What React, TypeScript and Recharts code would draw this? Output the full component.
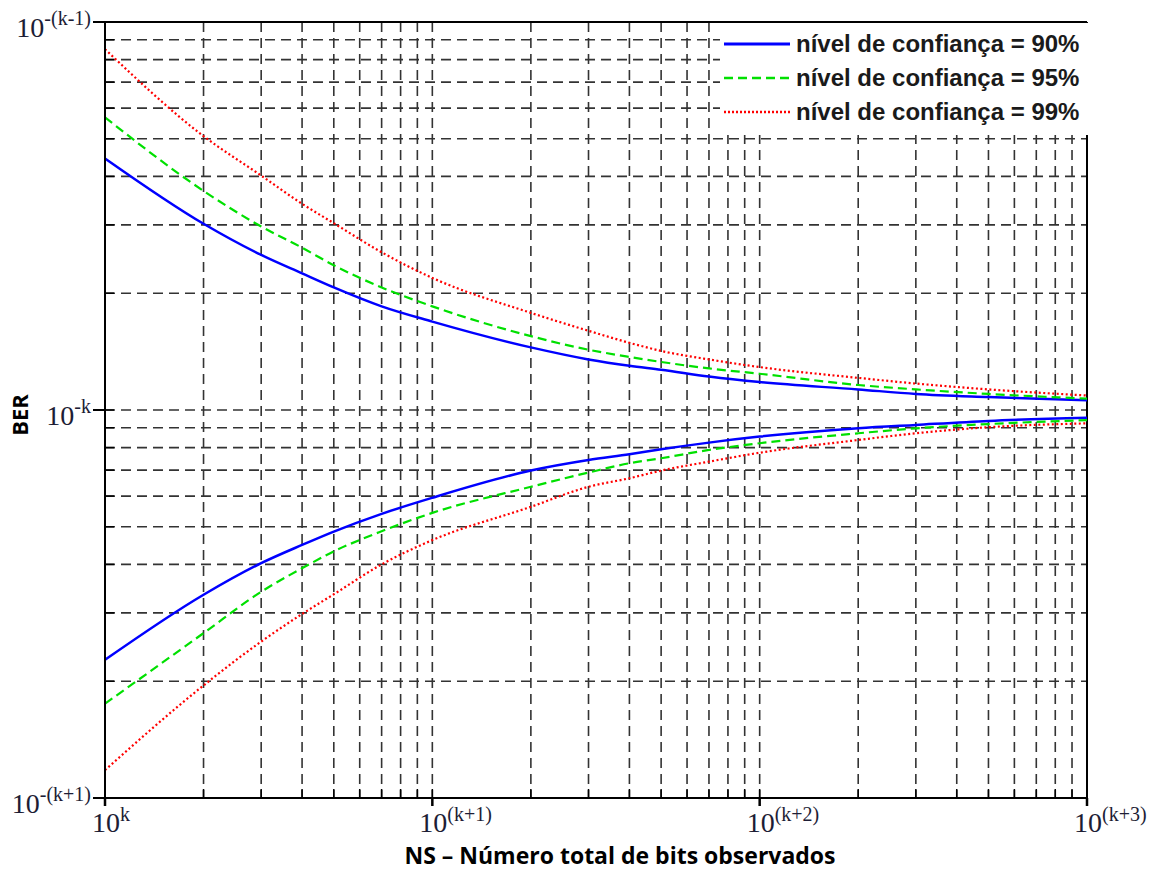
import {
  LineChart,
  Line,
  XAxis,
  YAxis,
  CartesianGrid,
  ReferenceLine,
  Legend,
} from "recharts";

// NS / 10^k  (eixo x)
const nsValues = [1, 2, 3, 4, 5, 7, 10, 20, 30, 40, 50, 70, 100, 200, 300, 500, 1000];

// BER / 10^-k, limites superior e inferior por nível de confiança
const upper90 = [4.45, 3.02, 2.51, 2.25, 2.07, 1.85, 1.69, 1.45, 1.35, 1.3, 1.27, 1.22, 1.18, 1.13, 1.1, 1.08, 1.06];
const lower90 = [0.227, 0.334, 0.403, 0.449, 0.486, 0.54, 0.594, 0.698, 0.743, 0.769, 0.792, 0.824, 0.854, 0.897, 0.915, 0.937, 0.955];
const upper95 = [5.68, 3.67, 2.97, 2.62, 2.36, 2.07, 1.85, 1.55, 1.43, 1.37, 1.33, 1.28, 1.24, 1.16, 1.13, 1.1, 1.07];
const lower95 = [0.175, 0.266, 0.34, 0.391, 0.432, 0.487, 0.543, 0.634, 0.69, 0.729, 0.751, 0.789, 0.821, 0.871, 0.897, 0.92, 0.942];
const upper99 = [8.51, 5.08, 4.02, 3.4, 3.03, 2.55, 2.19, 1.78, 1.6, 1.49, 1.42, 1.35, 1.29, 1.21, 1.17, 1.13, 1.09];
const lower99 = [0.118, 0.195, 0.253, 0.298, 0.335, 0.4, 0.462, 0.563, 0.634, 0.667, 0.698, 0.736, 0.776, 0.837, 0.871, 0.903, 0.924];

const legendLabels = ["nível de confiança = 90%", "nível de confiança = 95%", "nível de confiança = 99%"];

const xTicks = [1, 2, 3, 4, 5, 6, 7, 8, 9, 10, 20, 30, 40, 50, 60, 70, 80, 90, 100, 200, 300, 400, 500, 600, 700, 800, 900, 1000];
const yTicks = [0.1, 0.2, 0.3, 0.4, 0.5, 0.6, 0.7, 0.8, 0.9, 1, 2, 3, 4, 5, 6, 7, 8, 9, 10];

const xDecades = [1, 10, 100, 1000];
const xExponents = ["k", "(k+1)", "(k+2)", "(k+3)"];
const yDecades = [0.1, 1, 10];
const yExponents = ["-(k+1)", "-k", "-(k-1)"];

const data = nsValues.map((ns, i) => ({
  ns,
  u90: upper90[i],
  l90: lower90[i],
  u95: upper95[i],
  l95: lower95[i],
  u99: upper99[i],
  l99: lower99[i],
}));

const TICK_FONT = "'Liberation Serif', 'DejaVu Serif', serif";
const TICK_COLOR = "#1d1d35";

function XTick(props: any) {
  const { x, y, payload } = props;
  const idx = xDecades.indexOf(payload.value);
  return (
    <g>
      <line x1={x} y1={y} x2={x} y2={y - 9} stroke="#000" strokeWidth={1.5} />
      {idx >= 0 && (
        <>
          <line x1={x} y1={y} x2={x} y2={y + 8} stroke="#000" strokeWidth={2.5} />
          <text x={x - 13} y={y + 34} fontFamily={TICK_FONT} fontSize={28} fill={TICK_COLOR}>
            10
            <tspan fontSize={20} dy={-11}>{xExponents[idx]}</tspan>
          </text>
        </>
      )}
    </g>
  );
}

function YTick(props: any) {
  const { x, y, payload } = props;
  const idx = yDecades.findIndex((d) => Math.abs(d - payload.value) < 1e-9);
  return (
    <g>
      <line x1={x} y1={y} x2={x + 9} y2={y} stroke="#000" strokeWidth={1.5} />
      {idx >= 0 && (
        <>
          <line x1={x - 12} y1={y} x2={x} y2={y} stroke="#000" strokeWidth={2} />
          <text x={x - 14} y={y + 15} textAnchor="end" fontFamily={TICK_FONT} fontSize={28} fill={TICK_COLOR}>
            10
            <tspan fontSize={20} dy={-12}>{yExponents[idx]}</tspan>
          </text>
        </>
      )}
    </g>
  );
}

const legendStyles = [
  { color: "#0000ff", dash: undefined, width: 3 },
  { color: "#00e000", dash: "9 5", width: 2.5 },
  { color: "#ff0000", dash: "2 2", width: 2.5 },
];

function LegendBox() {
  return (
    <div style={{ background: "#fff", padding: "4px 0 6px 4px", width: 365 }}>
      {legendLabels.map((lab, i) => (
        <div key={lab} style={{ display: "flex", alignItems: "center", height: 34 }}>
          <svg width={66} height={10} style={{ marginRight: 6 }}>
            <line
              x1={0}
              y1={5}
              x2={66}
              y2={5}
              stroke={legendStyles[i].color}
              strokeWidth={legendStyles[i].width}
              strokeDasharray={legendStyles[i].dash}
            />
          </svg>
          <span
            style={{
              fontFamily: "'Liberation Sans', Arial, sans-serif",
              fontWeight: "bold",
              fontSize: 24,
              color: "#1a1a1a",
              whiteSpace: "nowrap",
            }}
          >
            {lab}
          </span>
        </div>
      ))}
    </div>
  );
}

function XLabel(props: any) {
  const { viewBox } = props;
  return (
    <text
      x={viewBox.x + viewBox.width / 2 + 24}
      y={viewBox.y + 66}
      textAnchor="middle"
      fontFamily="'Open Sans', sans-serif"
      fontWeight="bold"
      fontSize={23}
      fill="#000"
    >
      NS – Número total de bits observados
    </text>
  );
}

function YLabel(props: any) {
  const { viewBox } = props;
  const bx = 20;
  const cy = viewBox.y + viewBox.height / 2 + 5;
  return (
    <g transform={`translate(${bx}, ${cy}) rotate(-90)`}>
      <text
        x={0}
        y={0}
        textAnchor="middle"
        fontFamily="'Open Sans', sans-serif"
        fontWeight="bold"
        fontSize={22}
        fill="#000"
      >
        BER
      </text>
    </g>
  );
}

export default function App() {
  return (
    <div style={{ width: 1151, height: 864 }}>
      <LineChart width={1151} height={864} data={data} margin={{ top: 14, right: 72, left: 0, bottom: 0 }}>
        <CartesianGrid stroke="#333" strokeWidth={1.6} strokeDasharray="10 6" />
        <XAxis
          dataKey="ns"
          type="number"
          scale="log"
          domain={[1, 1000]}
          ticks={xTicks}
          allowDataOverflow
          height={74}
          tickSize={0}
          tickMargin={0}
          tickLine={false}
          axisLine={{ stroke: "#000", strokeWidth: 2 }}
          tick={<XTick />}
          interval={0}
          label={<XLabel />}
        />
        <YAxis
          type="number"
          scale="log"
          domain={[0.1, 10]}
          ticks={yTicks}
          allowDataOverflow
          width={97}
          tickSize={0}
          tickMargin={0}
          tickLine={false}
          axisLine={{ stroke: "#000", strokeWidth: 2 }}
          tick={<YTick />}
          interval={0}
          label={<YLabel />}
        />
        <ReferenceLine y={10} stroke="#000" strokeWidth={2} />
        <ReferenceLine x={1000} stroke="#000" strokeWidth={2} />
        <Legend
          layout="vertical"
          align="center"
          verticalAlign="middle"
          wrapperStyle={{ left: 712, top: 15 }}
          content={() => <LegendBox />}
        />
        <Line dataKey="u90" type="monotone" stroke="#0000ff" strokeWidth={2.5} dot={false} isAnimationActive={false} />
        <Line dataKey="l90" type="monotone" stroke="#0000ff" strokeWidth={2.5} dot={false} isAnimationActive={false} />
        <Line dataKey="u95" type="monotone" stroke="#00e000" strokeWidth={2.2} strokeDasharray="9 5" dot={false} isAnimationActive={false} />
        <Line dataKey="l95" type="monotone" stroke="#00e000" strokeWidth={2.2} strokeDasharray="9 5" dot={false} isAnimationActive={false} />
        <Line dataKey="u99" type="monotone" stroke="#ff0000" strokeWidth={2.2} strokeDasharray="2 2.5" dot={false} isAnimationActive={false} />
        <Line dataKey="l99" type="monotone" stroke="#ff0000" strokeWidth={2.2} strokeDasharray="2 2.5" dot={false} isAnimationActive={false} />
      </LineChart>
    </div>
  );
}
